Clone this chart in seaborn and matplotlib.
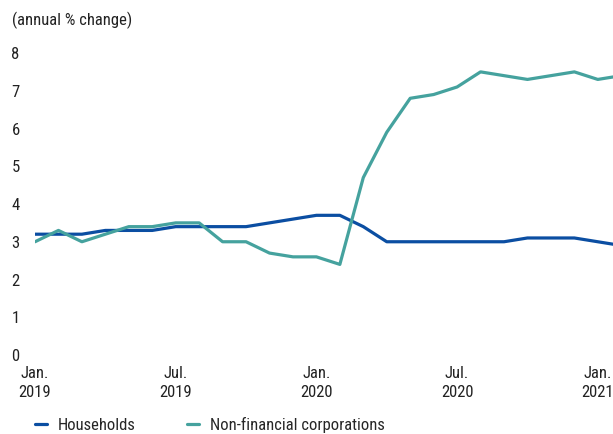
import numpy as np
import pandas as pd
import matplotlib
matplotlib.use("Agg")
import matplotlib.pyplot as plt
from matplotlib import font_manager
from matplotlib.lines import Line2D
import seaborn as sns

months = pd.date_range("2019-01-01", "2021-02-01", freq="MS")
households = [3.2, 3.2, 3.2, 3.3, 3.3, 3.3, 3.4, 3.4, 3.4, 3.4, 3.5, 3.6,
              3.7, 3.7, 3.4, 3.0, 3.0, 3.0, 3.0, 3.0, 3.0, 3.1, 3.1, 3.1,
              3.0, 2.9]
nfc = [3.0, 3.3, 3.0, 3.2, 3.4, 3.4, 3.5, 3.5, 3.0, 3.0, 2.7, 2.6,
       2.6, 2.4, 4.7, 5.9, 6.8, 6.9, 7.1, 7.5, 7.4, 7.3, 7.4, 7.5,
       7.3, 7.4]
series_names = ["Households", "Non-financial corporations"]
tick_labels = ["Jan.\n2019", "Jul.\n2019", "Jan.\n2020", "Jul.\n2020", "Jan.\n2021"]
tick_idx = [0, 6, 12, 18, 24]
y_ticks = [0, 1, 2, 3, 4, 5, 6, 7, 8]

idx = np.arange(len(months))
df = pd.DataFrame({
    "m": np.concatenate([idx, idx]),
    "value": households + nfc,
    "series": [series_names[0]] * len(idx) + [series_names[1]] * len(idx),
})

sns.set_theme(style="white")

# pick a narrow font if one is installed
fam = None
fsize = 12.0
names = {f.name for f in font_manager.fontManager.ttflist}
condensed = [f for f in font_manager.fontManager.ttflist
             if f.stretch in ("condensed", "semi-condensed", "extra-condensed")
             or "Narrow" in f.name or "Condensed" in f.name]
for pref in ["Liberation Sans Narrow", "Roboto Condensed", "Open Sans Condensed",
             "Noto Sans Condensed"]:
    if pref in names:
        fam = pref
        break
if fam is None and condensed:
    fam = condensed[0].name
if fam is None:
    fam = "Roboto" if "Roboto" in names else "DejaVu Sans"
    fsize = 11.0
plt.rcParams["font.family"] = [fam, "DejaVu Sans"]

W, H = 613, 434
fig = plt.figure(figsize=(W / 100, H / 100), dpi=100)
ax = fig.add_axes([35 / W, (H - 355) / H, (W - 35) / W, (355 - 53) / H])

palette = {series_names[0]: "#0B4EA2", series_names[1]: "#45A29E"}
sns.lineplot(data=df, x="m", y="value", hue="series", palette=palette,
             linewidth=2.3, ax=ax, legend=False)

ax.set_xlim(0, (W - 35) / 23.45)
ax.set_ylim(0, 8)
ax.set_yticks(y_ticks)
ax.set_yticklabels([str(v) for v in y_ticks])
ax.set_xticks(tick_idx)
ax.set_xticklabels(tick_labels, linespacing=1.3)
ax.set_xlabel("")
ax.set_ylabel("")
for s in ax.spines.values():
    s.set_visible(False)
ax.tick_params(axis="both", length=0, labelsize=fsize, colors="#222222")
ax.tick_params(axis="y", pad=11)
ax.tick_params(axis="x", pad=8)

fig.text(12 / W, 1 - 20 / H, "(annual % change)", fontsize=fsize,
         va="center", ha="left", color="#222222")

handles = [Line2D([], [], color=palette[n], linewidth=2.3) for n in series_names]
fig.legend(handles, series_names, loc="center left",
           bbox_to_anchor=(35 / W, 1 - 425 / H), ncol=2, frameon=False,
           fontsize=fsize, handlelength=0.72, handletextpad=0.66,
           columnspacing=3.05, borderaxespad=0, borderpad=0)

fig.savefig("out.png", dpi=100)
